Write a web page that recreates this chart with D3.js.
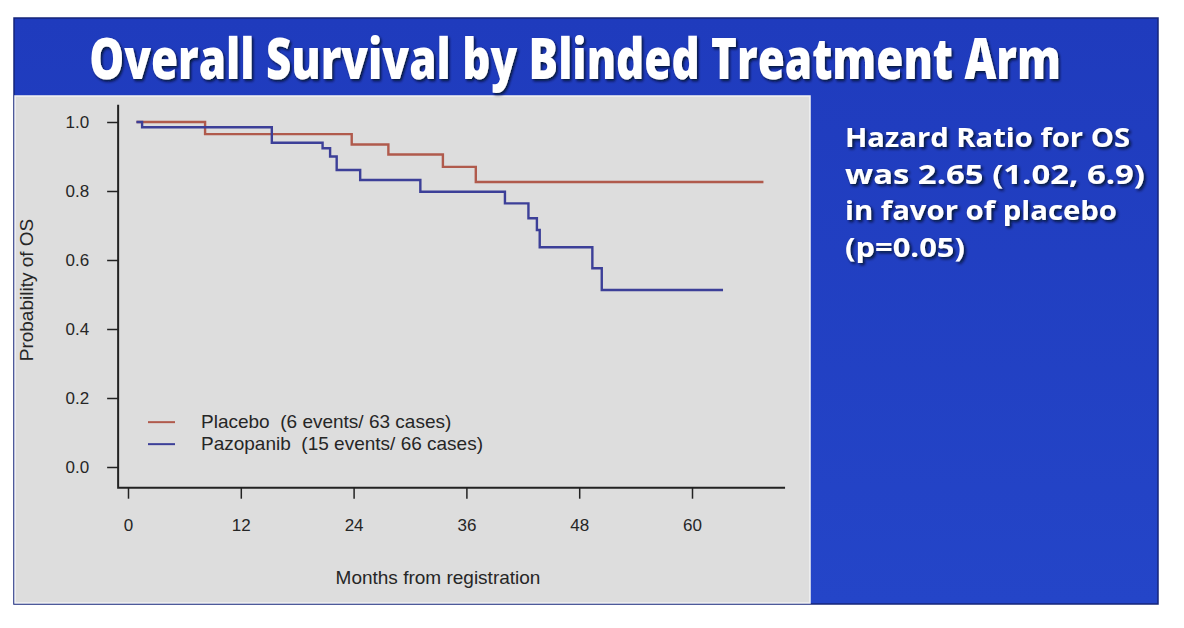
<!DOCTYPE html>
<html>
<head>
<meta charset="utf-8">
<script src="https://cdn.jsdelivr.net/npm/d3@7"></script>
<style>
  body { margin: 0; background: #fff; }
  svg { display: block; }
  text { white-space: pre; }
</style>
</head>
<body>
<div id="chart"></div>
<script>
// data
const title = 'Overall Survival by Blinded Treatment Arm'
const noteLines = ['Hazard Ratio for OS', 'was 2.65 (1.02, 6.9)', 'in favor of placebo', '(p=0.05)']

const xTicks = [0, 12, 24, 36, 48, 60]
const yTicks = [0, 0.2, 0.4, 0.6, 0.8, 1.0]

const placeboMonths = [0.9, 8.2, 23.8, 27.7, 33.5, 37.0, 67.6]
const placeboSurv = [1.0, 0.965, 0.935, 0.906, 0.870, 0.826, 0.826]

const pazopanibMonths = [0.9, 1.5, 15.3, 20.7, 21.5, 22.2, 24.7, 31.1, 40.1, 42.6, 43.5, 43.8, 49.4, 50.4, 63.3]
const pazopanibSurv = [1.0, 0.985, 0.94, 0.924, 0.90, 0.861, 0.832, 0.798, 0.764, 0.721, 0.687, 0.637, 0.576, 0.513, 0.513]

const seriesNames = ['Placebo  (6 events/ 63 cases)', 'Pazopanib  (15 events/ 66 cases)']
const seriesColors = ['#b05a4c', '#3c3f98']

const W = 1184, H = 628
const font = 'Liberation Sans, Arial, sans-serif'
const ink = '#262626'

const svg = d3.select('#chart').append('svg')
  .attr('width', W)
  .attr('height', H)

const defs = svg.append('defs')
defs.append('filter')
  .attr('id', 'shadow')
  .attr('filterUnits', 'userSpaceOnUse')
  .attr('x', -2000).attr('y', -2000).attr('width', 5000).attr('height', 5000)
  .append('feDropShadow')
    .attr('dx', 2).attr('dy', 2)
    .attr('stdDeviation', 1.5)
    .attr('flood-color', '#000820')
    .attr('flood-opacity', 0.85)

const grad = defs.append('linearGradient')
  .attr('id', 'slideBg')
  .attr('x1', 0).attr('y1', 0).attr('x2', 0).attr('y2', 1)
grad.append('stop').attr('offset', '0%').attr('stop-color', '#1f3bbd')
grad.append('stop').attr('offset', '100%').attr('stop-color', '#2445c8')

// slide
svg.append('rect')
  .attr('x', 14).attr('y', 18)
  .attr('width', 1144).attr('height', 586)
  .attr('fill', 'url(#slideBg)')
  .attr('stroke', '#14247a')
  .attr('stroke-width', 1.5)

// grey plot panel
svg.append('rect')
  .attr('x', 15).attr('y', 96)
  .attr('width', 795).attr('height', 507)
  .attr('fill', '#dddddd')
  .attr('stroke', '#f2f2f2')
  .attr('stroke-width', 1.5)

const noteWidths = [285, 300, 272, 120]
svg.append('g')
  .selectAll('text')
  .data(noteLines)
  .enter()
    .append('text')
    .attr('x', 845)
    .attr('y', (d, i) => 147 + i * 36.5)
    .attr('textLength', (d, i) => noteWidths[i])
    .attr('lengthAdjust', 'spacingAndGlyphs')
    .attr('font-family', 'Open Sans, sans-serif')
    .attr('font-weight', 700)
    .attr('font-size', 27)
    .attr('fill', '#fff')
    .attr('filter', 'url(#shadow)')
    .text(d => d)

// scales
const x = d3.scaleLinear().domain([0, 60]).range([128, 692])
const y = d3.scaleLinear().domain([0, 1]).range([467, 122])

const plot = svg.append('g')
  .attr('font-family', font)

// L-shaped frame
const x0 = x(-1.05), x1 = x(69.9)
const yTop = y(1.05), yBot = y(-0.06)
plot.append('path')
  .attr('d', `M${x0},${yTop}V${yBot}H${x1}`)
  .attr('fill', 'none')
  .attr('stroke', '#222')
  .attr('stroke-width', 2)

const yAxis = d3.axisLeft(y)
  .tickValues(yTicks)
  .tickFormat(d3.format('.1f'))
  .tickSize(11)
  .tickPadding(18)
plot.append('g')
  .attr('transform', `translate(${x0},0)`)
  .call(yAxis)
  .call(g => g.select('.domain').remove())
  .call(g => g.selectAll('line').attr('stroke', '#222').attr('stroke-width', 1.5))
  .call(g => g.selectAll('text').attr('font-size', 17).attr('fill', ink).attr('font-family', font))

const xAxis = d3.axisBottom(x)
  .tickValues(xTicks)
  .tickSize(11)
  .tickPadding(20)
plot.append('g')
  .attr('transform', `translate(0,${yBot})`)
  .call(xAxis)
  .call(g => g.select('.domain').remove())
  .call(g => g.selectAll('line').attr('stroke', '#222').attr('stroke-width', 1.5))
  .call(g => g.selectAll('text').attr('font-size', 17).attr('fill', ink).attr('font-family', font))

plot.append('text')
  .attr('x', 438).attr('y', 584)
  .attr('text-anchor', 'middle')
  .attr('font-size', 19)
  .attr('fill', ink)
  .text('Months from registration')

plot.append('text')
  .attr('transform', 'translate(33,290) rotate(-90)')
  .attr('text-anchor', 'middle')
  .attr('font-size', 19)
  .attr('fill', ink)
  .text('Probability of OS')

// survival curves
const series = [
  placeboMonths.map((m, i) => ({ m, p: placeboSurv[i] })),
  pazopanibMonths.map((m, i) => ({ m, p: pazopanibSurv[i] }))
]
const line = d3.line()
  .x(d => x(d.m))
  .y(d => y(d.p))
  .curve(d3.curveStepAfter)

plot.selectAll('path.km')
  .data(series)
  .enter()
    .append('path')
    .attr('class', 'km')
    .attr('d', line)
    .attr('fill', 'none')
    .attr('stroke', (d, i) => seriesColors[i])
    .attr('stroke-width', 2.4)

// legend
const legend = plot.append('g')
  .attr('transform', `translate(148,${y(0.13)})`)
const item = legend.selectAll('g')
  .data(seriesNames)
  .enter()
    .append('g')
    .attr('transform', (d, i) => `translate(0,${i * 22})`)
item.append('line')
  .attr('x1', 0).attr('x2', 27)
  .attr('stroke', (d, i) => seriesColors[i])
  .attr('stroke-width', 2)
item.append('text')
  .attr('x', 53).attr('y', 6)
  .attr('font-size', 19)
  .attr('fill', ink)
  .text(d => d)

// title last so nothing paints over it; squeezed horizontally to the slide's width
const titleText = svg.append('text')
  .attr('text-anchor', 'middle')
  .attr('font-family', 'Open Sans, sans-serif')
  .attr('font-weight', 800)
  .attr('font-size', 56)
  .attr('fill', '#fff')
  .attr('filter', 'url(#shadow)')
  .text(title)
const squeeze = 972 / titleText.node().getComputedTextLength()
titleText.attr('transform', `translate(575,79) scale(${squeeze},1)`)
</script>
</body>
</html>
